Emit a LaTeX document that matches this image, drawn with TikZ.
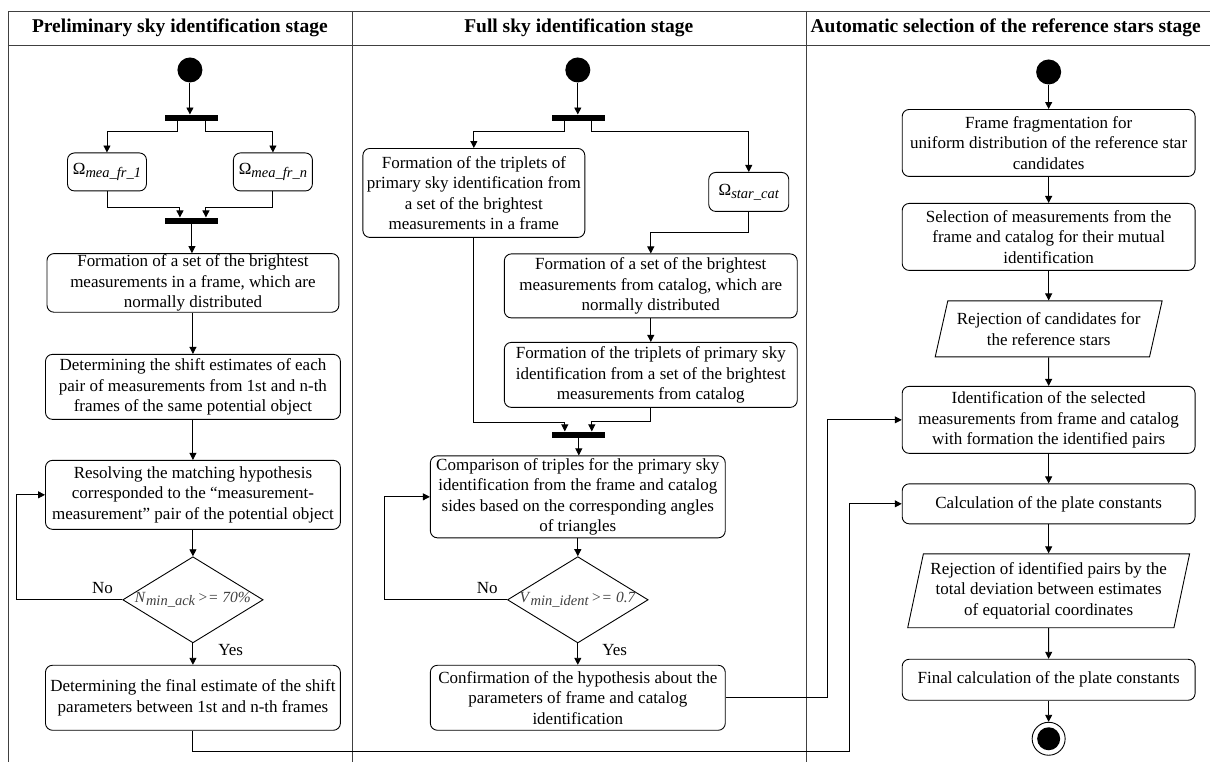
\documentclass[tikz,border=0pt]{standalone}
\usepackage{fontspec}
\setmainfont{Liberation Serif}
\usetikzlibrary{positioning,shapes.geometric,arrows.meta}
\newcommand{\lowit}[1]{\raisebox{-0.4ex}{\fontsize{14.5}{14.5}\selectfont\itshape #1}}

\begin{document}
\begin{tikzpicture}
  [x=1pt,y=-1pt,line width=0.9pt,>={Triangle[length=7pt,width=7pt]},
   every node/.style={font=\fontsize{17}{20.5}\selectfont},
   frm/.style={draw=black!75,line width=0.8pt},
   head/.style={font=\fontsize{19.5}{22}\selectfont\bfseries},
   act/.style={draw,rounded corners=7pt,align=center,inner sep=1pt},
   data/.style={draw,trapezium,trapezium stretches body,align=center,inner sep=1pt},
   cond/.style={draw,diamond,aspect=1.63,inner sep=0pt,minimum width=140,minimum height=86,
                text=black!75,font=\fontsize{15.5}{18}\selectfont},
   bar/.style={fill,minimum width=53,minimum height=6,inner sep=0pt},
   start/.style={circle,fill,minimum size=25,inner sep=0pt},
   lbl/.style={inner sep=1pt}]

  % swimlanes
  \draw[frm] (8,762) -- (8,11) -- (1210,11);
  \draw[frm] (8,45) -- (1210,45);
  \draw[frm] (353,11) -- (353,762);
  \draw[frm] (807,11) -- (807,762);
  \node (h1) [head] at (180,28) {Preliminary sky identification stage};
  \node (h2) [head] at (579,28) {Full sky identification stage};
  \node (h3) [head] at (1006,28) {Automatic selection of the reference stars stage};

  % preliminary stage
  \node (st1) [start] at (190,70) {};
  \node (fk1) [bar] at (192,118) {};
  \node (om1) [act,minimum width=79,minimum height=38] at (107,172) {Ω\lowit{mea\_fr\_1}};
  \node (om2) [act,minimum width=79,minimum height=38] at (273,172) {Ω\lowit{mea\_fr\_n}};
  \node (jn1) [bar] at (192,221) {};
  \node (a1) [act,minimum width=292,minimum height=57] at (193,283)
    {Formation of a set of the brightest\\measurements in a frame, which are\\normally distributed};
  \node (a2) [act,minimum width=295,minimum height=65] at (193,387)
    {Determining the shift estimates of each\\pair of measurements from 1st and n-th\\frames of the same potential object};
  \node (a3) [act,minimum width=295,minimum height=69] at (193,495)
    {Resolving the matching hypothesis\\corresponded to the ``measurement-\\measurement'' pair of the potential object};
  \node (d1) [cond] at (193,600) {\textit{N}\lowit{min\_ack}\,\textit{>= 70\%}};
  \node (a4) [act,minimum width=295,minimum height=65] at (193,698)
    {Determining the final estimate of the shift\\parameters between 1st and n-th frames};
  \node (no1) [lbl,above left=5pt and 8pt of d1.west] {No};
  \node (ye1) [lbl,below right=0pt and 24pt of d1.south] {Yes};

  % full stage
  \node (st2) [start] at (578,70) {};
  \node (fk2) [bar] at (579,118) {};
  \node (b1) [act,minimum width=222,minimum height=89] at (474,193)
    {Formation of the triplets of\\primary sky identification from\\a set of the brightest\\measurements in a frame};
  \node (om3) [act,minimum width=80,minimum height=39] at (749,192) {Ω\lowit{star\_cat}};
  \node (b2) [act,minimum width=293,minimum height=64] at (651,286)
    {Formation of a set of the brightest\\measurements from catalog, which are\\normally distributed};
  \node (b3) [act,minimum width=293,minimum height=65] at (651,375)
    {Formation of the triplets of primary sky\\identification from a set of the brightest\\measurements from catalog};
  \node (jn2) [bar] at (579,435) {};
  \node (b4) [act,minimum width=295,minimum height=82] at (578,497)
    {Comparison of triples for the primary sky\\identification from the frame and catalog\\sides based on the corresponding angles\\of triangles};
  \node (d2) [cond] at (578,600) {\textit{V}\lowit{min\_ident}\,\textit{>= 0.7}};
  \node (b5) [act,minimum width=295,minimum height=65] at (578,698)
    {Confirmation of the hypothesis about the\\parameters of frame and catalog\\identification};
  \node (no2) [lbl,above left=5pt and 8pt of d2.west] {No};
  \node (ye2) [lbl,below right=0pt and 23pt of d2.south] {Yes};

  % reference stars stage
  \node (st3) [start] at (1049,72) {};
  \node (c1) [act,minimum width=293,minimum height=67] at (1049,143)
    {Frame fragmentation for\\uniform distribution of the reference star\\candidates};
  \node (c2) [act,minimum width=293,minimum height=67] at (1049,237)
    {Selection of measurements from the\\frame and catalog for their mutual\\identification};
  \node (c3) [data,minimum width=227,minimum height=56,trapezium left angle=70,trapezium right angle=110]
    at (1049,329) {Rejection of candidates for\\the reference stars};
  \node (c4) [act,minimum width=293,minimum height=67] at (1049,420)
    {Identification of the selected\\measurements from frame and catalog\\with formation the identified pairs};
  \node (c5) [act,minimum width=293,minimum height=40] at (1049,504)
    {Calculation of the plate constants};
  \node (c6) [data,minimum width=282,minimum height=74,trapezium left angle=75,trapezium right angle=105]
    at (1049,591) {Rejection of identified pairs by the\\total deviation between estimates\\of equatorial coordinates};
  \node (c7) [act,minimum width=293,minimum height=41] at (1049,680)
    {Final calculation of the plate constants};
  \node (en) [circle,draw,minimum size=33,inner sep=0pt] at (1049,739) {};
  \fill (en) circle (11.5);

  % flows
  \draw[->] (st1) -- (st1 |- fk1.north);
  \draw[->] ([xshift=-14pt]fk1.south) -- ++(0,10) -| (om1.north);
  \draw[->] ([xshift=14pt]fk1.south) -- ++(0,10) -| (om2.north);
  \draw[->] (om1.south) -- ++(0,16) -| ([xshift=-12pt]jn1.north);
  \draw[->] (om2.south) -- ++(0,16) -| ([xshift=14pt]jn1.north);
  \draw[->] (jn1.south) -- (jn1.south |- a1.north);
  \foreach \from/\to in {a1/a2,a2/a3,a3/d1,d1/a4}
    \draw[->] (\from) -- (\to);
  \draw[->] (d1.west) -- ++(-106,0) |- (a3.west);

  \draw[->] (st2) -- (st2 |- fk2.north);
  \draw[->] ([xshift=-14pt]fk2.south) -- ++(0,10) -| (b1.north);
  \draw[->] ([xshift=13pt]fk2.south) -- ++(0,10) -| (om3.north);
  \draw[->] (om3.south) -- ++(0,21) -| (b2.north);
  \draw[->] (b2) -- (b3);
  \draw[->] (b1.south) -- ++(0,185) -| ([xshift=-14pt]jn2.north);
  \draw[->] (b3.south) -- ++(0,14) -| ([xshift=13pt]jn2.north);
  \draw[->] (jn2.south) -- (jn2.south |- b4.north);
  \foreach \from/\to in {b4/d2,d2/b5}
    \draw[->] (\from) -- (\to);
  \draw[->] (d2.west) -- ++(-123,0) |- (b4.west);

  \foreach \from/\to in {st3/c1,c1/c2,c2/c3,c3/c4,c4/c5,c5/c6,c6/c7,c7/en}
    \draw[->] (\from) -- (\to);

  % between stages
  \draw[->] (b5.east) -- (828,698) |- (c4.west);
  \draw[->] (a4.south) |- (850,752) |- (c5.west);

  \useasboundingbox (0,0) rectangle (1210,762);
\end{tikzpicture}
\end{document}
